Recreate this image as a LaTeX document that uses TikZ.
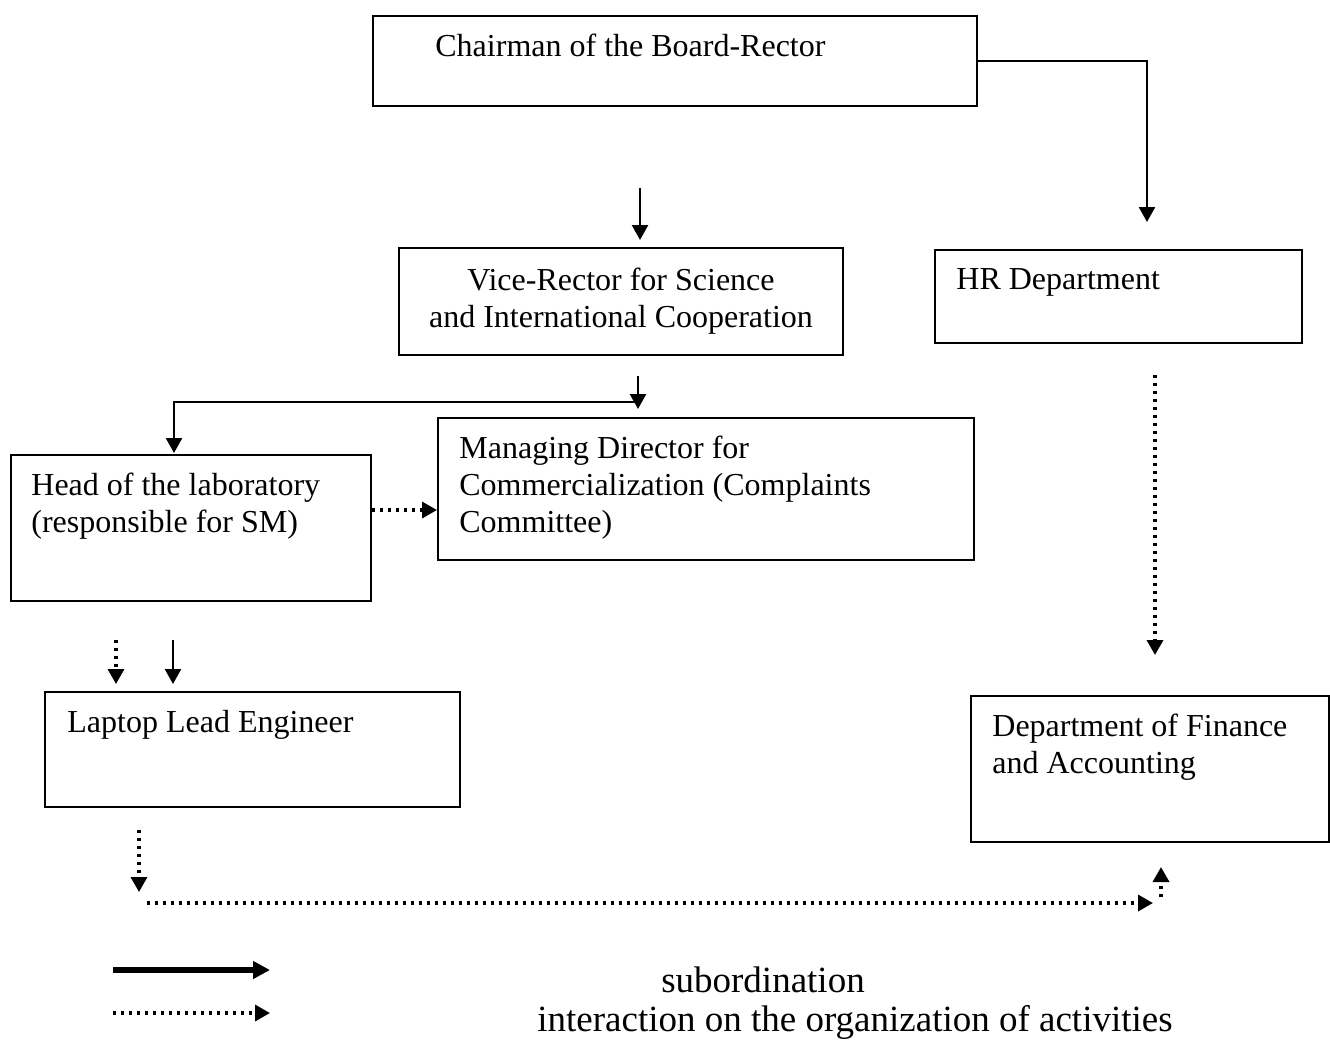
\documentclass[tikz,border=0pt]{standalone}
\usepackage{fontspec}
\setmainfont{Liberation Serif}
\usetikzlibrary{arrows.meta,calc}

\begin{document}
\begin{tikzpicture}[
    x=0.5pt, y=-0.5pt,
    box/.style={draw, line width=1pt, rectangle, inner sep=0pt, anchor=north west},
    txt/.style={inner sep=0pt, anchor=north west, align=left, font=\fontsize{16}{18.5}\selectfont},
    sub/.style={line width=1.2pt, -{Triangle[length=7.5pt, width=8pt]}},
    inter/.style={line width=1.7pt, dash pattern=on 1.7pt off 2.3pt, -{Triangle[length=7.5pt, width=8pt]}},
    legtxt/.style={inner sep=0pt, font=\fontsize{18.5}{22}\selectfont}
  ]
  \useasboundingbox (0,0) rectangle (1330,1041);

  \node[box, minimum width=302pt, minimum height=45pt] (chair) at (372,15) {};
  \node[txt] (chairtxt) at ($(chair.north west)+(63,19)$) {Chairman of the Board-Rector};

  \node[box, minimum width=222pt, minimum height=53.5pt, align=center,
        font=\fontsize{16}{18.5}\selectfont] (vice) at (398,247)
        {Vice-Rector for Science\\and International Cooperation};

  \node[box, minimum width=183.5pt, minimum height=46.5pt] (hr) at (934,249) {};
  \node[txt] (hrtxt) at ($(hr.north west)+(22,19)$) {HR Department};

  \node[box, minimum width=268pt, minimum height=71pt] (md) at (437,417) {};
  \node[txt] (mdtxt) at ($(md.north west)+(22,19)$)
        {Managing Director for\\Commercialization (Complaints\\Committee)};

  \node[box, minimum width=180pt, minimum height=73pt] (head) at (10,454) {};
  \node[txt] (headtxt) at ($(head.north west)+(21,19)$)
        {Head of the laboratory\\(responsible for SM)};

  \node[box, minimum width=207.5pt, minimum height=57.5pt] (lap) at (44,691) {};
  \node[txt] (laptxt) at ($(lap.north west)+(23,19)$) {Laptop Lead Engineer};

  \node[box, minimum width=179pt, minimum height=73pt] (fin) at (970,695) {};
  \node[txt] (fintxt) at ($(fin.north west)+(22,19)$)
        {Department of Finance\\and Accounting};

  % free ends of the arrows
  \coordinate (hrin) at (1147,222);
  \coordinate (vtop) at (640,188);
  \coordinate (vend) at (640,240);
  \coordinate (mtop) at (638,376);
  \coordinate (mend) at (638,409);
  \coordinate (split) at (636,402);
  \coordinate (hrdot) at (1155,375);
  \coordinate (hrdotend) at (1155,655);
  \coordinate (ldot) at (116,640);
  \coordinate (ldotend) at (116,684);
  \coordinate (lsol) at (173,640);
  \coordinate (lsolend) at (173,684);
  \coordinate (bdot) at (139,830);
  \coordinate (bdotend) at (139,892);
  \coordinate (hline) at (147,903);
  \coordinate (hlineend) at (1153,903);
  \coordinate (up) at (1161,897);
  \coordinate (upend) at (1161,867);

  \draw[sub] (chair.east) -| (hrin);
  \draw[sub] (vtop) -- (vend);
  \draw[sub] (mtop) -- (mend);
  \draw[sub] (split) -| ($(head.north west)+(164,-1)$);
  \draw[inter] (head.east |- 0,510) -- (md.west |- 0,510);
  \draw[inter] (hrdot) -- (hrdotend);
  \draw[inter] (ldot) -- (ldotend);
  \draw[sub] (lsol) -- (lsolend);
  \draw[inter] (bdot) -- (bdotend);
  \draw[inter] (hline) -- (hlineend);
  \draw[inter] (up) -- (upend);

  % legend
  \coordinate (lega) at (113,970);
  \coordinate (legaend) at (270,970);
  \coordinate (legb) at (113,1013);
  \coordinate (legbend) at (270,1013);
  \draw[line width=3pt, -{Triangle[length=8.5pt, width=8.5pt]}] (lega) -- (legaend);
  \draw[line width=1.7pt, dash pattern=on 1.7pt off 2.3pt,
        -{Triangle[length=7.5pt, width=8pt]}] (legb) -- (legbend);
  \node[legtxt] (legsub) at (763,980) {subordination};
  \node[legtxt] (leginter) at (855,1022) {interaction on the organization of activities};
\end{tikzpicture}
\end{document}
